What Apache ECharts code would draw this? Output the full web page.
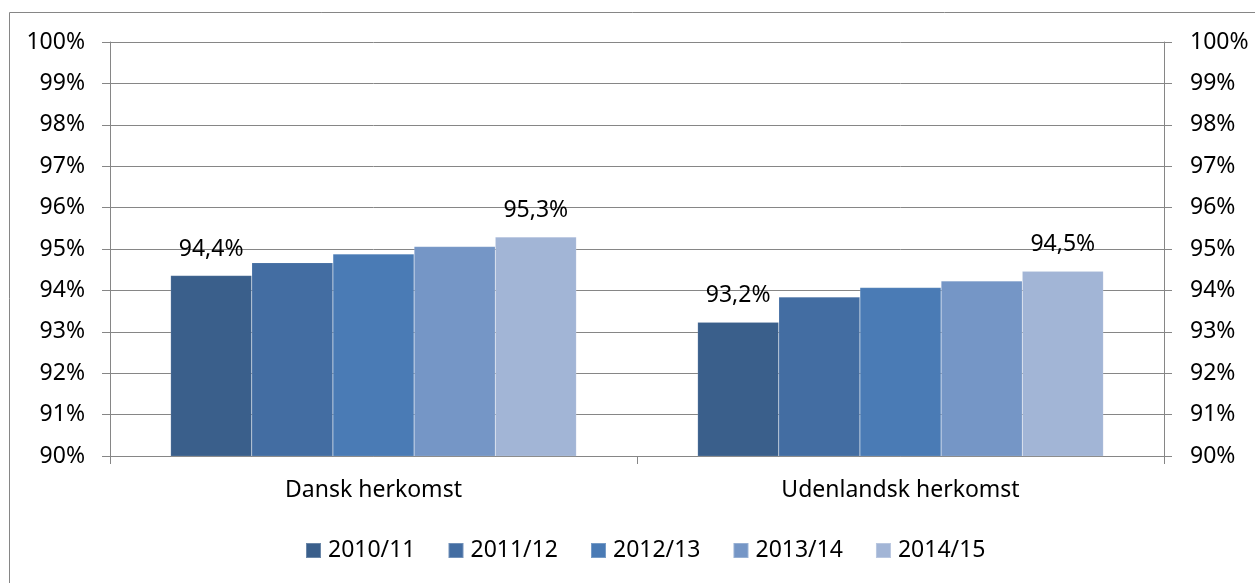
<!DOCTYPE html>
<html>
<head>
<meta charset="utf-8">
<script src="https://cdn.jsdelivr.net/npm/echarts@6/dist/echarts.min.js"></script>
<style>html,body{margin:0;padding:0;background:#fff}#c{width:1255px;height:583px}</style>
</head>
<body>
<div id="c"></div>
<script>
const categories = ['Dansk herkomst', 'Udenlandsk herkomst'];
const seriesNames = ['2010/11', '2011/12', '2012/13', '2013/14', '2014/15'];
const v2010 = [94.36, 93.23];
const v2011 = [94.67, 93.84];
const v2012 = [94.88, 94.07];
const v2013 = [95.06, 94.23];
const v2014 = [95.29, 94.46];
const yTicks = [90, 91, 92, 93, 94, 95, 96, 97, 98, 99, 100];
const colors = ['#3A5F8B', '#436DA2', '#4A7BB5', '#7596C6', '#A2B5D6'];
const labelled = [true, false, false, false, true];

const FONT = "'Noto Sans', sans-serif";
const FS = 23;
const values = [v2010, v2011, v2012, v2013, v2014];
const chart = echarts.init(document.getElementById('c'), null, {renderer: 'canvas'});

const axisCommon = {
  type: 'value',
  min: yTicks[0],
  max: yTicks[yTicks.length - 1],
  interval: 1,
  axisLine: {show: true, lineStyle: {color: '#868686', width: 1}},
  axisTick: {show: true, length: 8, lineStyle: {color: '#868686'}},
  axisLabel: {formatter: '{value}%', color: '#000', fontSize: FS, fontFamily: FONT, margin: 25}
};

chart.setOption({
  animation: false,
  color: colors,
  textStyle: {fontFamily: FONT},
  graphic: [{
    type: 'rect',
    shape: {x: 9.5, y: 12.5, width: 1300, height: 700},
    style: {fill: 'none', stroke: '#868686', lineWidth: 1},
    silent: true
  }],
  grid: {left: 110, right: 91, top: 42, bottom: 127, containLabel: false},
  legend: {
    data: seriesNames,
    left: 305,
    top: 539,
    padding: 0,
    itemWidth: 15,
    itemHeight: 15,
    itemGap: 32,
    icon: 'rect',
    textStyle: {fontSize: FS, color: '#000', fontFamily: FONT, padding: [0, 0, 0, 2]}
  },
  xAxis: {
    type: 'category',
    data: categories,
    axisLine: {show: true, lineStyle: {color: '#868686', width: 1}},
    axisTick: {show: true, length: 8, alignWithLabel: false, lineStyle: {color: '#868686'}},
    axisLabel: {color: '#000', fontSize: FS, fontFamily: FONT, margin: 23}
  },
  yAxis: [
    Object.assign({}, axisCommon, {position: 'left',
      splitLine: {show: true, lineStyle: {color: '#868686', width: 1}}}),
    Object.assign({}, axisCommon, {position: 'right',
      splitLine: {show: false},
      axisLabel: Object.assign({}, axisCommon.axisLabel, {margin: 26})})
  ],
  series: seriesNames.map((name, i) => ({
    name: name,
    type: 'bar',
    data: values[i],
    barGap: '0%',
    barCategoryGap: '23%',
    itemStyle: {color: colors[i], borderColor: 'rgba(255,255,255,0.25)', borderWidth: 0.5},
    label: {
      show: labelled[i],
      position: 'top',
      distance: 15,
      color: '#000',
      fontSize: FS,
      fontFamily: FONT,
      formatter: p => p.value.toFixed(1).replace('.', ',') + '%'
    }
  }))
});
</script>
</body>
</html>
